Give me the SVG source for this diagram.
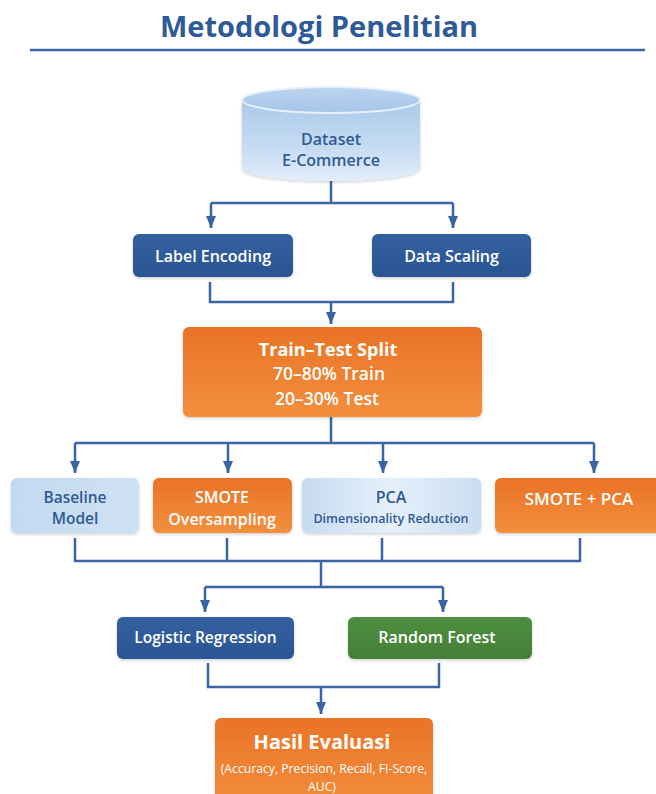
<svg xmlns="http://www.w3.org/2000/svg" width="656" height="794" viewBox="0 0 656 794">
<defs>
<linearGradient id="gOrange" x1="0" y1="0" x2="0" y2="1">
<stop offset="0" stop-color="#ea7326"/>
<stop offset="1" stop-color="#f28f3e"/>
</linearGradient>
<linearGradient id="gBlue" x1="0" y1="0" x2="0" y2="1">
<stop offset="0" stop-color="#33609f"/>
<stop offset="1" stop-color="#2a5594"/>
</linearGradient>
<linearGradient id="gGreen" x1="0" y1="0" x2="0" y2="1">
<stop offset="0" stop-color="#4f8e40"/>
<stop offset="1" stop-color="#447f38"/>
</linearGradient>
<linearGradient id="gLight" x1="0" y1="0" x2="1" y2="0">
<stop offset="0" stop-color="#c4daf1"/>
<stop offset="1" stop-color="#cfe1f4"/>
</linearGradient>
<linearGradient id="gPca" x1="0" y1="0" x2="1" y2="0">
<stop offset="0" stop-color="#c6dbf1"/>
<stop offset="0.5" stop-color="#e6f0fa"/>
<stop offset="1" stop-color="#c9ddf2"/>
</linearGradient>
<linearGradient id="gCyl" x1="0" y1="0" x2="0" y2="1">
<stop offset="0" stop-color="#a9c9ea"/>
<stop offset="0.6" stop-color="#c7dcf2"/>
<stop offset="1" stop-color="#e3eefa"/>
</linearGradient>
<linearGradient id="gCylTop" x1="0" y1="0" x2="0" y2="1">
<stop offset="0" stop-color="#bcd5ef"/>
<stop offset="1" stop-color="#a5c5e8"/>
</linearGradient>
<marker id="arr" viewBox="0 0 12 10" refX="12" refY="5" markerWidth="12" markerHeight="10" markerUnits="userSpaceOnUse" orient="auto">
<path d="M0,0 L12,5 L0,10 Z" fill="#3a64a4"/>
</marker>
<filter id="sh" x="-10%" y="-10%" width="120%" height="130%">
<feDropShadow dx="0" dy="1.5" stdDeviation="1.5" flood-color="#000" flood-opacity="0.18"/>
</filter>
</defs>
<style>
text { font-family: "Open Sans", "Liberation Sans", sans-serif; text-anchor: middle; dominant-baseline: central; }
.w { fill: #ffffff; }
.d { fill: #2f5a95; }
.conn { fill: none; stroke: #3a64a4; stroke-width: 2.5; }
.ttl { font-size: 29px; font-weight: 700; fill: #2e5b98; }
.sb { font-weight: 600; }
.b { font-weight: 700; }
.r { font-weight: 400; }
</style>
<rect x="0" y="0" width="656" height="794" fill="#ffffff"/>
<g id="title">
<text class="ttl" x="319" y="25">Metodologi Penelitian</text>
<line x1="30" y1="50" x2="645" y2="50" stroke="#3d66a5" stroke-width="2.5"/>
</g>
<g id="connectors">
<path class="conn" d="M331,180 V203 M211,203 H453 M211,203 V227 M453,203 V227"/>
<path class="conn" d="M210,282 V302 H453 V282 M331,302 V323" />
<path class="conn" d="M331,417 V443 M75,443 H594 M75,443 V472 M228,443 V472 M383,443 V472 M594,443 V472"/>
<path class="conn" d="M75,538 V561 H580 V538 M227,538 V561 M382,538 V561 M321,561 V587 M205,587 H443 M205,587 V611 M443,587 V611"/>
<path class="conn" d="M208,663 V687 H439 V663 M321,687 V713"/>
<path class="conn" marker-end="url(#arr)" d="M211,215 V228"/>
<path class="conn" marker-end="url(#arr)" d="M453,215 V228"/>
<path class="conn" marker-end="url(#arr)" d="M331,312 V324"/>
<path class="conn" marker-end="url(#arr)" d="M75,460 V473"/>
<path class="conn" marker-end="url(#arr)" d="M228,460 V473"/>
<path class="conn" marker-end="url(#arr)" d="M383,460 V473"/>
<path class="conn" marker-end="url(#arr)" d="M594,460 V473"/>
<path class="conn" marker-end="url(#arr)" d="M205,600 V612"/>
<path class="conn" marker-end="url(#arr)" d="M443,600 V612"/>
<path class="conn" marker-end="url(#arr)" d="M321,702 V714"/>
</g>
<g id="dataset">
<path d="M242,100 V168 A89,13 0 0 0 420,168 V100 Z" fill="url(#gCyl)" filter="url(#sh)"/>
<ellipse cx="331" cy="100" rx="89" ry="13" fill="url(#gCylTop)" stroke="#e8f1fb" stroke-width="2"/>
<text class="d sb" x="331" y="139" font-size="16">Dataset</text>
<text class="d sb" x="331" y="160" font-size="16">E-Commerce</text>
</g>
<g id="label-encoding">
<rect x="133" y="234" width="160" height="43" rx="6" fill="url(#gBlue)" filter="url(#sh)"/>
<text class="w sb" x="213" y="255.5" font-size="16">Label Encoding</text>
</g>
<g id="data-scaling">
<rect x="372" y="234" width="159" height="43" rx="6" fill="url(#gBlue)" filter="url(#sh)"/>
<text class="w sb" x="451.5" y="255.5" font-size="16">Data Scaling</text>
</g>
<g id="train-test">
<rect x="183" y="327" width="299" height="90" rx="6" fill="url(#gOrange)" filter="url(#sh)"/>
<text class="w b" x="328" y="349" font-size="18">Train–Test Split</text>
<text class="w sb" x="329" y="373" font-size="17.5">70–80% Train</text>
<text class="w sb" x="327" y="398" font-size="17.5">20–30% Test</text>
</g>
<g id="baseline">
<rect x="11" y="478" width="128" height="55" rx="6" fill="url(#gLight)" filter="url(#sh)"/>
<text class="d sb" x="75" y="497" font-size="15.5">Baseline</text>
<text class="d sb" x="75" y="518" font-size="15.5">Model</text>
</g>
<g id="smote">
<rect x="153" y="478" width="139" height="55" rx="6" fill="url(#gOrange)" filter="url(#sh)"/>
<text class="w sb" x="222" y="497" font-size="16">SMOTE</text>
<text class="w sb" x="222" y="518.5" font-size="16">Oversampling</text>
</g>
<g id="pca">
<rect x="302" y="478" width="179" height="55" rx="6" fill="url(#gPca)" filter="url(#sh)"/>
<text class="d sb" x="391" y="497" font-size="16">PCA</text>
<text class="d sb" x="391" y="518" font-size="12.5">Dimensionality Reduction</text>
</g>
<g id="smote-pca">
<rect x="495" y="478" width="170" height="55" rx="6" fill="url(#gOrange)" filter="url(#sh)"/>
<text class="w sb" x="579" y="498" font-size="17">SMOTE + PCA</text>
</g>
<g id="logistic">
<rect x="117" y="617" width="177" height="42" rx="6" fill="url(#gBlue)" filter="url(#sh)"/>
<text class="w sb" x="205.5" y="637" font-size="15.5">Logistic Regression</text>
</g>
<g id="random-forest">
<rect x="348" y="617" width="184" height="42" rx="6" fill="url(#gGreen)" filter="url(#sh)"/>
<text class="w sb" x="437" y="637" font-size="16">Random Forest</text>
</g>
<g id="hasil">
<rect x="215" y="718" width="218" height="90" rx="6" fill="url(#gOrange)" filter="url(#sh)"/>
<text class="w b" x="322" y="741" font-size="20">Hasil Evaluasi</text>
<text class="w r" x="324" y="768.5" font-size="12.2">(Accuracy, Precision, Recall, FI-Score,</text>
<text class="w r" x="322" y="786" font-size="12.2">AUC)</text>
</g>
</svg>
